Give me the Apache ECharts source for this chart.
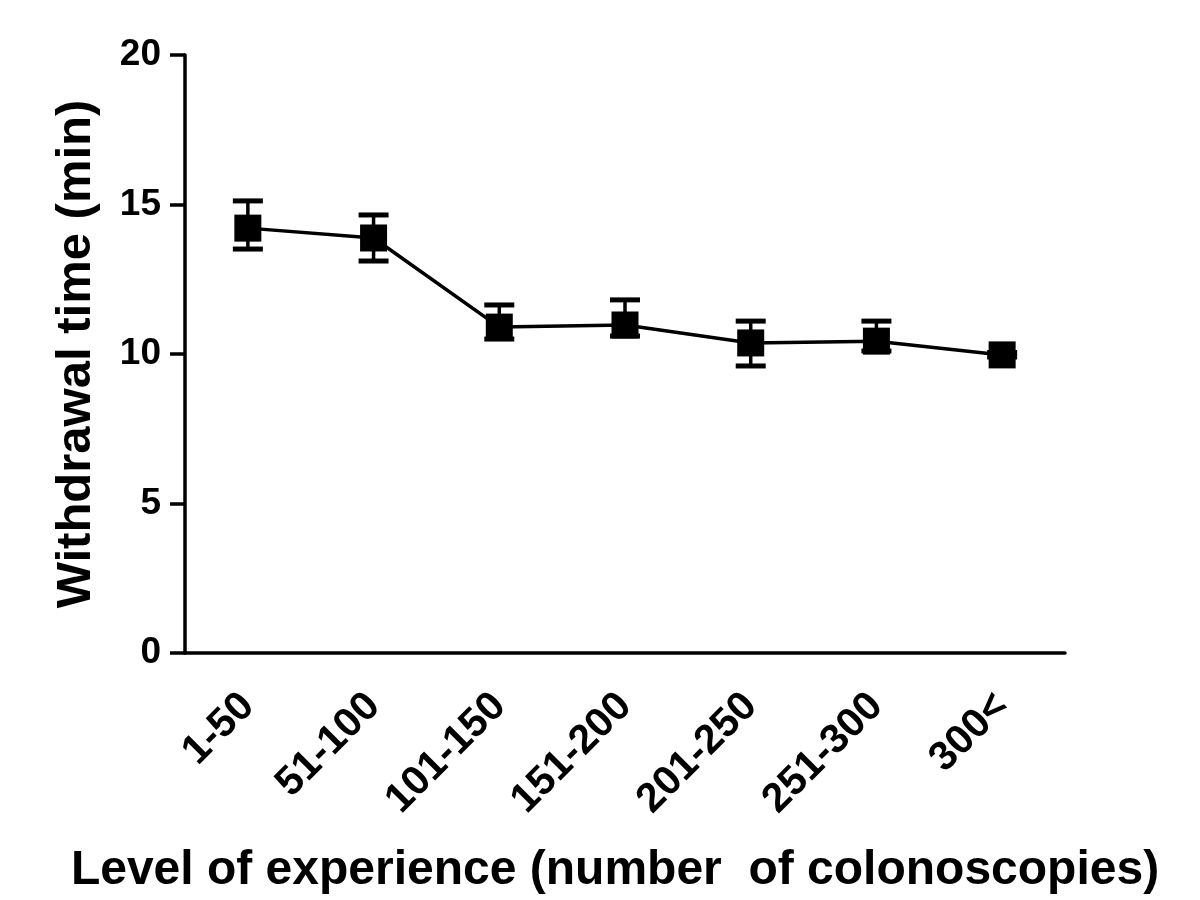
<!DOCTYPE html>
<html>
<head>
<meta charset="utf-8">
<script src="https://cdn.jsdelivr.net/npm/echarts@6/dist/echarts.min.js"></script>
<style>
  html, body { margin: 0; padding: 0; background: #fff; }
  #chart { width: 1200px; height: 900px; }
</style>
</head>
<body>
<div id="chart"></div>
<script>
var categories = ['1-50', '51-100', '101-150', '151-200', '201-250', '251-300', '300<'];
var means = [14.21, 13.88, 10.90, 10.97, 10.37, 10.43, 9.97];
var upper = [15.12, 14.65, 11.64, 11.81, 11.10, 11.10, 10.05];
var lower = [13.51, 13.11, 10.50, 10.60, 9.60, 10.10, 9.90];
var yTicks = [0, 5, 10, 15, 20];

var font = '"Liberation Sans", Arial, sans-serif';

window.onload = function () {
    var chart = echarts.init(document.getElementById('chart'));

    var errData = categories.map(function (c, i) {
        return [i, lower[i], upper[i]];
    });

    chart.setOption({
        animation: false,
        grid: { left: 185, right: 135, top: 55, bottom: 247 },
        xAxis: {
            type: 'category',
            data: categories,
            boundaryGap: true,
            name: 'Level of experience (number  of colonoscopies)',
            nameLocation: 'middle',
            nameGap: 194,
            nameTextStyle: { fontSize: 48, fontWeight: 'bold', color: '#000', fontFamily: font, padding: [0, 20, 0, 0] },
            axisLine: { lineStyle: { color: '#000', width: 3.5 } },
            axisTick: { alignWithLabel: true, length: 15, lineStyle: { color: '#000', width: 3.5 } },
            axisLabel: {
                rotate: 45, margin: 47, color: '#000', fontSize: 41,
                fontWeight: 'bold', fontFamily: font
            },
            splitLine: { show: false }
        },
        yAxis: {
            type: 'value',
            min: yTicks[0],
            max: yTicks[yTicks.length - 1],
            interval: 5,
            name: 'Withdrawal time (min)',
            nameLocation: 'middle',
            nameGap: 84,
            nameRotate: 90,
            nameTextStyle: { fontSize: 49, fontWeight: 'bold', color: '#000', fontFamily: font },
            axisLine: { show: true, lineStyle: { color: '#000', width: 3.5 } },
            axisTick: { show: true, length: 15, lineStyle: { color: '#000', width: 3.5 } },
            axisLabel: { margin: 24, color: '#000', fontSize: 37, fontWeight: 'bold', fontFamily: font },
            splitLine: { show: false }
        },
        series: [
            {
                type: 'custom',
                z: 1,
                data: errData,
                renderItem: function (params, api) {
                    var x = api.value(0);
                    var lo = api.coord([x, api.value(1)]);
                    var hi = api.coord([x, api.value(2)]);
                    var half = 15;
                    var style = { stroke: '#000', lineWidth: 5 };
                    return {
                        type: 'group',
                        children: [
                            { type: 'line', shape: { x1: hi[0], y1: hi[1], x2: lo[0], y2: lo[1] }, style: { stroke: '#000', lineWidth: 3.5 } },
                            { type: 'line', shape: { x1: hi[0] - half, y1: hi[1], x2: hi[0] + half, y2: hi[1] }, style: style },
                            { type: 'line', shape: { x1: lo[0] - half, y1: lo[1], x2: lo[0] + half, y2: lo[1] }, style: style }
                        ]
                    };
                }
            },
            {
                type: 'line',
                z: 2,
                data: means,
                symbol: 'rect',
                symbolSize: 27,
                lineStyle: { color: '#000', width: 3.5 },
                itemStyle: { color: '#000' }
            }
        ]
    });
};
</script>
</body>
</html>
